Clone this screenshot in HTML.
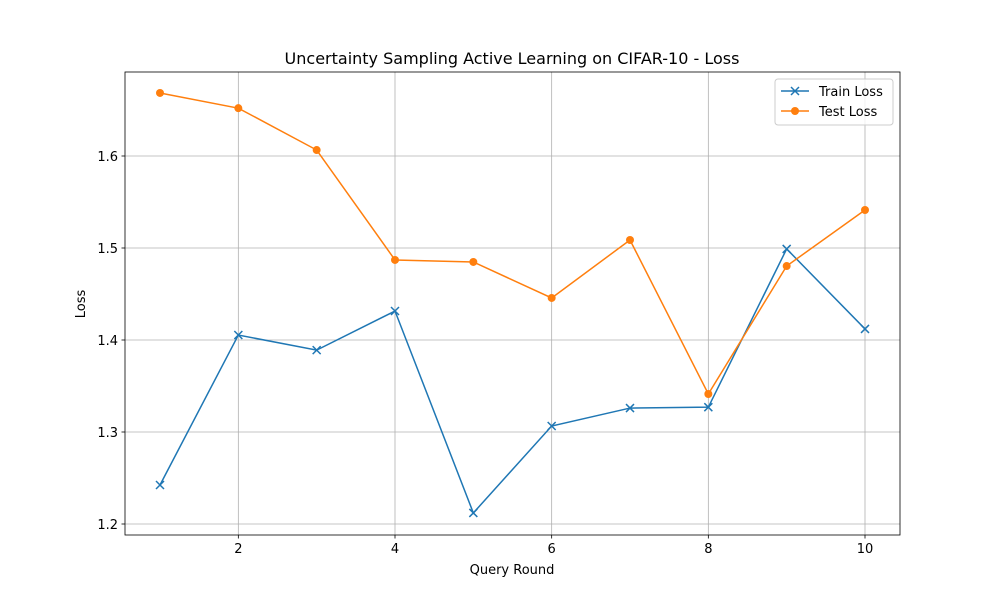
<!DOCTYPE html>
<html><head><meta charset="utf-8"><style>body{margin:0;background:#fff}svg{font-family:"DejaVu Sans","Liberation Sans",sans-serif}</style></head>
<body>
<svg id="chart" width="1000" height="600" viewBox="0 0 1000 600">
<rect width="1000" height="600" fill="#fff"/>
<g id="grid"></g>
<g id="ticks"></g>
<g id="series"></g>
<rect x="125" y="72" width="775" height="463" fill="none" stroke="#000" stroke-width="0.8"/>
<text x="512" y="64" text-anchor="middle" font-size="16">Uncertainty Sampling Active Learning on CIFAR-10 - Loss</text>
<text x="512" y="574" text-anchor="middle" font-size="13">Query Round</text>
<text x="85" y="304" text-anchor="middle" font-size="13" transform="rotate(-90 85 304)">Loss</text>
<g>
<rect x="775" y="79" width="118" height="46" rx="3" fill="#fff" fill-opacity="0.8" stroke="#ccc"/>
<g>
<line x1="781" y1="91" x2="809" y2="91" stroke="#1f77b4" stroke-width="1.5"/>
<path d="M791 87l8 8M799 87l-8 8" stroke="#1f77b4" stroke-width="1.5"/>
<text x="819" y="96" font-size="13">Train Loss</text></g>
<g>
<line x1="781" y1="111" x2="809" y2="111" stroke="#ff7f0e" stroke-width="1.5"/>
<circle cx="795" cy="111" r="4" fill="#ff7f0e"/>
<text x="819" y="116" font-size="13">Test Loss</text></g>
</g>
</svg>
<script>
const rounds=[1,2,3,4,5,6,7,8,9,10];
const trainLoss=[1.2424,1.4054,1.389,1.4315,1.212,1.3065,1.326,1.327,1.499,1.412];
const testLoss=[1.6685,1.652,1.6065,1.487,1.4848,1.4457,1.5087,1.3413,1.4804,1.5413];
const xTicks=[2,4,6,8,10];
const yTicks=[1.2,1.3,1.4,1.5,1.6];
const NS="http://www.w3.org/2000/svg";
const X=v=>160+(v-1)*(865-160)/9;
const Y=v=>524-(v-1.2)*920;
function mk(t,a,p){const e=document.createElementNS(NS,t);for(const k in a)e.setAttribute(k,a[k]);p.appendChild(e);return e;}
const grid=document.getElementById('grid'),ticks=document.getElementById('ticks'),ser=document.getElementById('series');
xTicks.forEach(v=>{const x=X(v);
const g=mk('line',{x1:x,x2:x,y1:72,y2:535,stroke:'#b0b0b0','stroke-width':0.8},grid);


mk('line',{x1:x,x2:x,y1:535,y2:538.5,stroke:'#000','stroke-width':0.8},ticks);
const t=mk('text',{x:x,y:553,'text-anchor':'middle','font-size':13},ticks);t.textContent=v;

});
yTicks.forEach(v=>{const y=Y(v);
const g=mk('line',{x1:125,x2:900,y1:y,y2:y,stroke:'#b0b0b0','stroke-width':0.8},grid);


mk('line',{x1:121.5,x2:125,y1:y,y2:y,stroke:'#000','stroke-width':0.8},ticks);
const t=mk('text',{x:118,y:y+5,'text-anchor':'end','font-size':13},ticks);t.textContent=v.toFixed(1);

});
function draw(vals,color,marker,name){
const pl=mk('polyline',{points:vals.map((v,i)=>X(rounds[i])+','+Y(v)).join(' '),fill:'none',stroke:color,'stroke-width':1.5},ser);


vals.forEach((v,i)=>{const x=X(rounds[i]),y=Y(v);let m;
if(marker==='x')m=mk('path',{d:`M${x-4} ${y-4}l8 8M${x+4} ${y-4}l-8 8`,stroke:color,'stroke-width':1.5},ser);
else m=mk('circle',{cx:x,cy:y,r:4,fill:color},ser);

});}
draw(trainLoss,'#1f77b4','x','train-loss');
draw(testLoss,'#ff7f0e','o','test-loss');
</script>
</body></html>
